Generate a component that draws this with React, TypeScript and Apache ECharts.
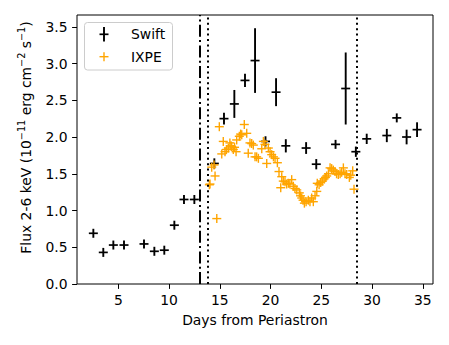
import React, { useEffect, useRef } from "react";
import * as echarts from "echarts";

const swiftDays = [2.54, 3.52, 4.51, 5.56, 7.53, 8.55, 9.53, 10.52, 11.47, 12.49, 14.46, 15.41, 16.43, 17.48, 18.47, 19.5, 20.54, 21.5, 23.5, 24.5, 26.4, 27.4, 28.4, 29.47, 31.45, 32.43, 33.4, 34.43];
const swiftFlux = [0.69, 0.43, 0.53, 0.53, 0.545, 0.445, 0.46, 0.8, 1.15, 1.15, 1.64, 2.25, 2.45, 2.77, 3.04, 1.94, 2.61, 1.88, 1.85, 1.63, 1.9, 2.66, 1.8, 1.975, 2.02, 2.26, 2.0, 2.1];
const swiftErr = [0.04, 0.04, 0.04, 0.04, 0.04, 0.04, 0.04, 0.04, 0.04, 0.04, 0.07, 0.08, 0.19, 0.09, 0.44, 0.07, 0.19, 0.09, 0.08, 0.07, 0.05, 0.49, 0.07, 0.07, 0.09, 0.05, 0.1, 0.1];

const ixpeDays = [13.97, 14.03, 14.2, 14.43, 14.53, 14.7, 14.95, 15.19, 15.34, 15.51, 15.65, 15.84, 15.99, 16.1, 16.17, 16.33, 16.45, 16.6, 16.66, 16.92, 17.05, 17.16, 17.41, 17.65, 17.8, 17.97, 18.14, 18.3, 18.47, 18.63, 18.8, 19.13, 19.29, 19.45, 19.62, 19.78, 19.95, 20.11, 20.28, 20.44, 20.67, 20.83, 21.0, 21.1, 21.25, 21.42, 21.58, 21.75, 21.9, 22.08, 22.24, 22.4, 22.58, 22.83, 22.95, 23.07, 23.2, 23.33, 23.5, 23.72, 23.88, 24.05, 24.21, 24.38, 24.55, 24.6, 24.78, 24.94, 25.1, 25.27, 25.4, 25.53, 25.7, 25.86, 26.02, 26.18, 26.35, 26.5, 26.67, 26.85, 27.0, 27.17, 27.33, 27.5, 27.76, 27.9, 28.09, 28.22];
const ixpeFlux = [1.35, 1.36, 1.59, 1.62, 1.47, 0.89, 2.14, 1.77, 1.94, 1.8, 1.83, 1.85, 1.92, 1.88, 1.87, 1.83, 1.86, 1.8, 1.96, 2.01, 2.04, 2.03, 2.17, 2.05, 1.78, 1.92, 1.91, 1.89, 1.73, 1.73, 1.71, 1.84, 1.94, 1.9, 1.64, 1.85, 1.8, 1.76, 1.73, 1.71, 1.65, 1.53, 1.31, 1.46, 1.4, 1.39, 1.36, 1.37, 1.36, 1.42, 1.33, 1.3, 1.28, 1.24, 1.2, 1.17, 1.14, 1.1, 1.12, 1.14, 1.12, 1.17, 1.12, 1.2, 1.26, 1.37, 1.35, 1.38, 1.4, 1.43, 1.45, 1.47, 1.5, 1.58, 1.57, 1.55, 1.53, 1.5, 1.49, 1.5, 1.52, 1.58, 1.5, 1.49, 1.45, 1.48, 1.54, 1.29];

const dashDotDays = [13.0];
const dottedDays = [13.8, 28.5];

const xTicks = [5, 10, 15, 20, 25, 30, 35];
const yTicks = [0, 0.5, 1, 1.5, 2, 2.5, 3, 3.5];

const FONT = "DejaVu Sans";
const FS = 13.9;

export default function App() {
  const ref = useRef<HTMLDivElement>(null);
  useEffect(() => {
    if (!ref.current) return;
    const chart = echarts.init(ref.current, undefined, { renderer: "svg" });
    const swiftData = swiftDays.map((d, i) => [d, swiftFlux[i], swiftErr[i]]);
    const ixpeData = ixpeDays.map((d, i) => [d, ixpeFlux[i]]);
    const h = 4.5;
    const option: any = {
      animation: false,
      backgroundColor: "#fff",
      textStyle: { fontFamily: FONT },
      grid: {
        left: 77,
        top: 15,
        right: 16,
        bottom: 61,
        show: true,
        borderColor: "#000",
        borderWidth: 1,
        backgroundColor: "transparent",
      },
      xAxis: {
        type: "value",
        min: 0.93,
        max: 36.0,
        name: "Days from Periastron",
        nameLocation: "middle",
        nameGap: 29,
        nameTextStyle: { fontSize: FS, color: "#000", fontFamily: FONT },
        axisLine: { show: false },
        splitLine: { show: false },
        axisTick: { show: true, length: 4.9, customValues: xTicks, lineStyle: { color: "#000", width: 1 } },
        axisLabel: { customValues: xTicks, fontSize: FS, color: "#000", margin: 9, fontFamily: FONT },
      },
      yAxis: {
        type: "value",
        min: 0,
        max: 3.66,
        name: "Flux 2-6 keV (10{sup|−11} erg cm{sup|−2} s{sup|−1})",
        nameLocation: "middle",
        nameGap: 38,
        nameTextStyle: {
          fontSize: FS,
          color: "#000",
          fontFamily: FONT,
          lineHeight: 18,
          padding: [0, 0, 0, 24],
          rich: {
            sup: { fontSize: 9.7, verticalAlign: "top", lineHeight: 18, fontFamily: FONT, color: "#000", padding: [0, 0, 6, 0] },
          },
        },
        axisLine: { show: false },
        splitLine: { show: false },
        axisTick: { show: true, length: 4.9, customValues: yTicks, lineStyle: { color: "#000", width: 1 } },
        axisLabel: {
          customValues: yTicks,
          fontSize: FS,
          color: "#000",
          margin: 9.5,
          fontFamily: FONT,
          formatter: (v: number) => v.toFixed(1),
        },
      },
      series: [
        {
          name: "Swift",
          type: "custom",
          data: swiftData,
          encode: { x: 0, y: 1 },
          renderItem: (params: any, api: any) => {
            const x = api.value(0);
            const y = api.value(1);
            const e = api.value(2);
            const c = api.coord([x, y]);
            const t = api.coord([x, y + e]);
            const b = api.coord([x, y - e]);
            return {
              type: "group",
              children: [
                {
                  type: "line",
                  shape: { x1: c[0], y1: Math.min(t[1], c[1] - h), x2: c[0], y2: Math.max(b[1], c[1] + h) },
                  style: { stroke: "#000", lineWidth: 1.9 },
                },
                {
                  type: "line",
                  shape: { x1: c[0] - h, y1: c[1], x2: c[0] + h, y2: c[1] },
                  style: { stroke: "#000", lineWidth: 1.7 },
                },
              ],
            };
          },
        },
        {
          name: "IXPE",
          type: "custom",
          data: ixpeData,
          encode: { x: 0, y: 1 },
          renderItem: (params: any, api: any) => {
            const c = api.coord([api.value(0), api.value(1)]);
            return {
              type: "group",
              children: [
                {
                  type: "line",
                  shape: { x1: c[0], y1: c[1] - h, x2: c[0], y2: c[1] + h },
                  style: { stroke: "#FFA500", lineWidth: 1.4 },
                },
                {
                  type: "line",
                  shape: { x1: c[0] - h, y1: c[1], x2: c[0] + h, y2: c[1] },
                  style: { stroke: "#FFA500", lineWidth: 1.4 },
                },
              ],
            };
          },
          markLine: {
            silent: true,
            symbol: "none",
            label: { show: false },
            data: [
              ...dashDotDays.map((d) => ({
                xAxis: d,
                lineStyle: { color: "#000", width: 2, type: [12, 3.3, 2, 3.3] },
              })),
              ...dottedDays.map((d) => ({
                xAxis: d,
                lineStyle: { color: "#000", width: 2, type: [2, 3.4] },
              })),
            ],
          },
        },
      ],
      graphic: [
        {
          type: "rect",
          shape: { x: 84.5, y: 22.5, width: 88, height: 47.5, r: 3 },
          style: { fill: "rgba(255,255,255,0.8)", stroke: "#cccccc", lineWidth: 1 },
          z: 100,
        },
        {
          type: "line",
          shape: { x1: 104, y1: 27, x2: 104, y2: 41.5 },
          style: { stroke: "#000", lineWidth: 1.9 },
          z: 101,
        },
        {
          type: "line",
          shape: { x1: 99.5, y1: 34.3, x2: 108.5, y2: 34.3 },
          style: { stroke: "#000", lineWidth: 1.7 },
          z: 101,
        },
        {
          type: "line",
          shape: { x1: 104, y1: 52.2, x2: 104, y2: 61.2 },
          style: { stroke: "#FFA500", lineWidth: 1.4 },
          z: 101,
        },
        {
          type: "line",
          shape: { x1: 99.5, y1: 56.7, x2: 108.5, y2: 56.7 },
          style: { stroke: "#FFA500", lineWidth: 1.4 },
          z: 101,
        },
        {
          type: "text",
          x: 131,
          y: 34.3,
          style: { text: "Swift", fontSize: FS, fontFamily: FONT, fill: "#000", textVerticalAlign: "middle" },
          z: 101,
        },
        {
          type: "text",
          x: 131,
          y: 56.7,
          style: { text: "IXPE", fontSize: FS, fontFamily: FONT, fill: "#000", textVerticalAlign: "middle" },
          z: 101,
        },
      ],
    };
    chart.setOption(option);
    return () => chart.dispose();
  }, []);
  return <div ref={ref} style={{ position: "fixed", left: 0, top: 0, width: 449, height: 345 }} />;
}
